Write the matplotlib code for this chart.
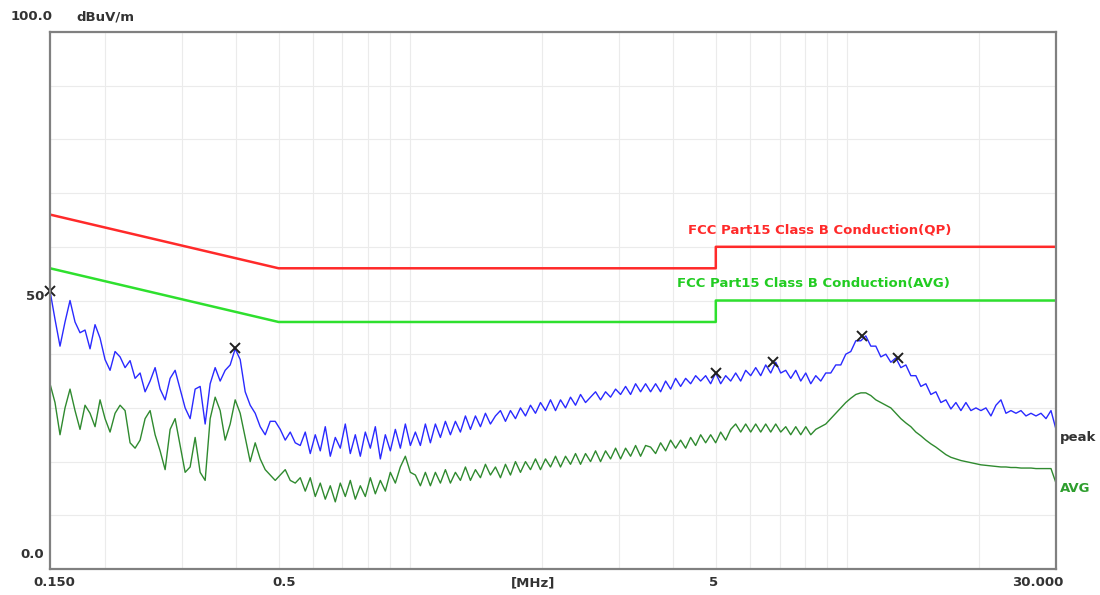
import numpy as np
import matplotlib.pyplot as plt
from matplotlib.ticker import LogLocator, NullFormatter

# peak trace (dBuV/m), one reading per sweep step from 0.150 to 30 MHz
peak = [51.8, 46.5, 41.5, 46.0, 50.0, 46.0, 44.0, 44.5, 41.0, 45.5,
        43.0, 39.0, 37.0, 40.5, 39.5, 37.5, 38.8, 35.5, 36.5, 33.0,
        35.0, 37.5, 33.5, 31.5, 35.5, 37.0, 33.5, 30.0, 28.0, 33.5,
        34.0, 27.0, 34.5, 37.5, 35.0, 37.0, 38.0, 41.0, 39.0, 33.0,
        30.5, 29.0, 26.5, 25.0, 27.5, 27.5, 26.0, 24.0, 25.5, 23.5,
        23.0, 25.5, 21.5, 25.0, 22.0, 26.5, 21.0, 24.5, 22.5, 27.0,
        21.5, 25.0, 21.0, 25.5, 22.5, 26.5, 20.5, 25.0, 22.0, 26.0,
        22.5, 27.0, 23.0, 25.5, 23.0, 27.0, 23.5, 27.0, 24.5, 27.5,
        25.0, 27.5, 25.5, 28.5, 26.0, 28.5, 26.5, 29.0, 27.0, 28.5,
        29.5, 27.5, 29.5, 28.0, 30.0, 28.5, 30.5, 29.0, 31.0, 29.5,
        31.5, 29.5, 31.5, 30.0, 32.0, 30.5, 32.5, 31.0, 32.0, 33.0,
        31.5, 33.0, 32.0, 33.5, 32.5, 34.0, 32.5, 34.5, 33.0, 34.5,
        33.0, 34.5, 33.0, 35.0, 33.5, 35.5, 34.0, 35.5, 34.5, 36.0,
        35.0, 36.0, 34.5, 36.5, 34.5, 36.0, 35.0, 36.5, 35.0, 37.0,
        36.0, 37.5, 36.0, 38.0, 36.5, 38.5, 36.5, 37.0, 35.5, 37.0,
        35.0, 36.5, 34.5, 36.0, 35.0, 36.5, 36.5, 38.0, 38.0, 40.0,
        40.5, 42.5, 42.5, 43.4, 41.5, 41.5, 39.5, 40.0, 38.5, 39.3,
        37.5, 38.0, 36.0, 36.0, 34.0, 34.5, 32.5, 33.0, 31.0, 31.5,
        29.8, 31.0, 29.5, 31.0, 29.5, 30.0, 29.5, 30.0, 28.5, 30.5,
        31.5, 29.0, 29.5, 29.0, 29.5, 28.5, 29.0, 28.5, 29.0, 28.0,
        29.5, 26.0]

# average trace (dBuV/m)
avg = [34.5, 31.0, 25.0, 30.0, 33.5, 29.5, 26.0, 30.5, 29.0, 26.5,
       31.5, 28.0, 25.5, 29.0, 30.5, 29.5, 23.5, 22.5, 24.0, 28.0,
       29.5, 25.0, 22.0, 18.5, 26.0, 28.0, 23.0, 18.0, 19.0, 24.5,
       18.0, 16.5, 28.0, 32.0, 29.5, 24.0, 27.0, 31.5, 29.0, 24.5,
       20.0, 23.5, 20.5, 18.5, 17.5, 16.5, 17.5, 18.5, 16.5, 16.0,
       17.0, 14.5, 17.0, 13.5, 16.0, 13.0, 15.5, 12.5, 16.0, 13.5,
       16.5, 13.0, 15.5, 13.5, 17.0, 14.0, 16.5, 14.5, 18.0, 16.0,
       19.0, 21.0, 18.0, 17.5, 15.5, 18.0, 15.5, 18.0, 16.0, 18.5,
       16.0, 18.0, 16.5, 19.0, 16.5, 18.5, 17.0, 19.5, 17.5, 19.0,
       17.0, 19.5, 17.5, 20.0, 18.0, 20.0, 18.5, 20.5, 18.5, 20.5,
       19.0, 21.0, 19.0, 21.0, 19.5, 21.5, 19.5, 21.5, 20.0, 22.0,
       20.0, 22.0, 20.5, 22.5, 20.5, 22.5, 21.0, 23.0, 21.0, 23.0,
       22.7, 21.5, 23.5, 22.0, 24.0, 22.5, 24.0, 22.5, 24.5, 23.0,
       25.0, 23.5, 25.0, 23.5, 25.5, 24.0, 26.0, 27.0, 25.5, 27.0,
       25.5, 27.0, 25.5, 27.0, 25.5, 27.0, 25.5, 26.5, 25.0, 26.5,
       25.0, 26.5, 25.0, 26.0, 26.5, 27.0, 28.0, 29.0, 30.0, 31.0,
       31.8, 32.5, 32.8, 32.8, 32.3, 31.5, 31.0, 30.5, 30.0, 29.0,
       28.0, 27.2, 26.5, 25.5, 24.8, 24.0, 23.3, 22.7, 22.0, 21.3,
       20.8, 20.5, 20.2, 20.0, 19.8, 19.6, 19.4, 19.3, 19.2, 19.1,
       19.0, 19.0, 18.9, 18.9, 18.8, 18.8, 18.8, 18.7, 18.7, 18.7,
       18.7, 16.0]

freq = np.geomspace(0.15, 30, len(peak))  # log sweep grid, MHz

# marked peaks
mark_f = [0.15, 0.397, 5.0, 6.76, 10.8, 13.05]
mark_v = [51.8, 41.2, 36.5, 38.5, 43.4, 39.3]

# FCC Part15 class B limits
lim_f = [0.15, 0.5, 0.5, 5.0, 5.0, 30.0]
qp_lim = [66, 56, 56, 56, 60, 60]
avg_lim = [56, 46, 46, 46, 50, 50]

W, H = 1100, 595
fig = plt.figure(figsize=(W / 100, H / 100), dpi=100, facecolor='white')
ax = fig.add_axes([50 / W, 1 - 569 / H, 1006 / W, 537 / H])
ax.set_xscale('log')
ax.set_xlim(0.15, 30)
ax.set_ylim(0, 100)

# faint grid
ax.xaxis.set_major_locator(LogLocator(base=10, subs=np.arange(1, 10)))
ax.xaxis.set_major_formatter(NullFormatter())
ax.xaxis.set_minor_locator(plt.NullLocator())
ax.set_yticks(np.arange(0, 101, 10))
ax.set_yticklabels([])
ax.tick_params(length=0)
ax.grid(True, color='#ebebeb', lw=0.8)
ax.set_axisbelow(True)
for s in ax.spines.values():
    s.set_color('#808080')
    s.set_linewidth(1.6)

# limit lines
ax.plot(lim_f, qp_lim, color='#ff2a2a', lw=1.8)
ax.plot(lim_f, avg_lim, color='#2ee02e', lw=1.8)

ax.plot(freq, avg, color='#2f8a2f', lw=1.0)
ax.plot(freq, peak, color='#2a2aff', lw=1.0)
ax.plot(mark_f, mark_v, 'x', color='#202020', ms=7, mew=1.4, clip_on=False)

fnt = dict(family='DejaVu Sans', fontweight='bold', fontsize=9.5)
ax.text(4.32, 63.1, 'FCC Part15 Class B Conduction(QP)', color='#ff2a2a',
        va='center', ha='left', **fnt)
ax.text(4.08, 53.1, 'FCC Part15 Class B Conduction(AVG)', color='#22cc22',
        va='center', ha='left', **fnt)

def ftext(x, y, s, **kw):
    fig.text(x / W, 1 - y / H, s, va='center', **fnt, **kw)

ftext(53, 17, '100.0', ha='right', color='#333333')
ftext(76, 17, 'dBuV/m', ha='left', color='#333333')
ftext(44, 297, '50', ha='right', color='#333333')
ftext(44, 555, '0.0', ha='right', color='#333333')
ftext(54, 583, '0.150', ha='center', color='#333333')
ftext(284, 583, '0.5', ha='center', color='#333333')
ftext(533, 583, '[MHz]', ha='center', color='#333333')
ftext(714, 583, '5', ha='center', color='#333333')
ftext(1063, 583, '30.000', ha='right', color='#333333')
ftext(1060, 437, 'peak', ha='left', color='#333333')
ftext(1060, 488, 'AVG', ha='left', color='#2e9e2e')

plt.savefig('out.png', dpi=100, facecolor='white')
